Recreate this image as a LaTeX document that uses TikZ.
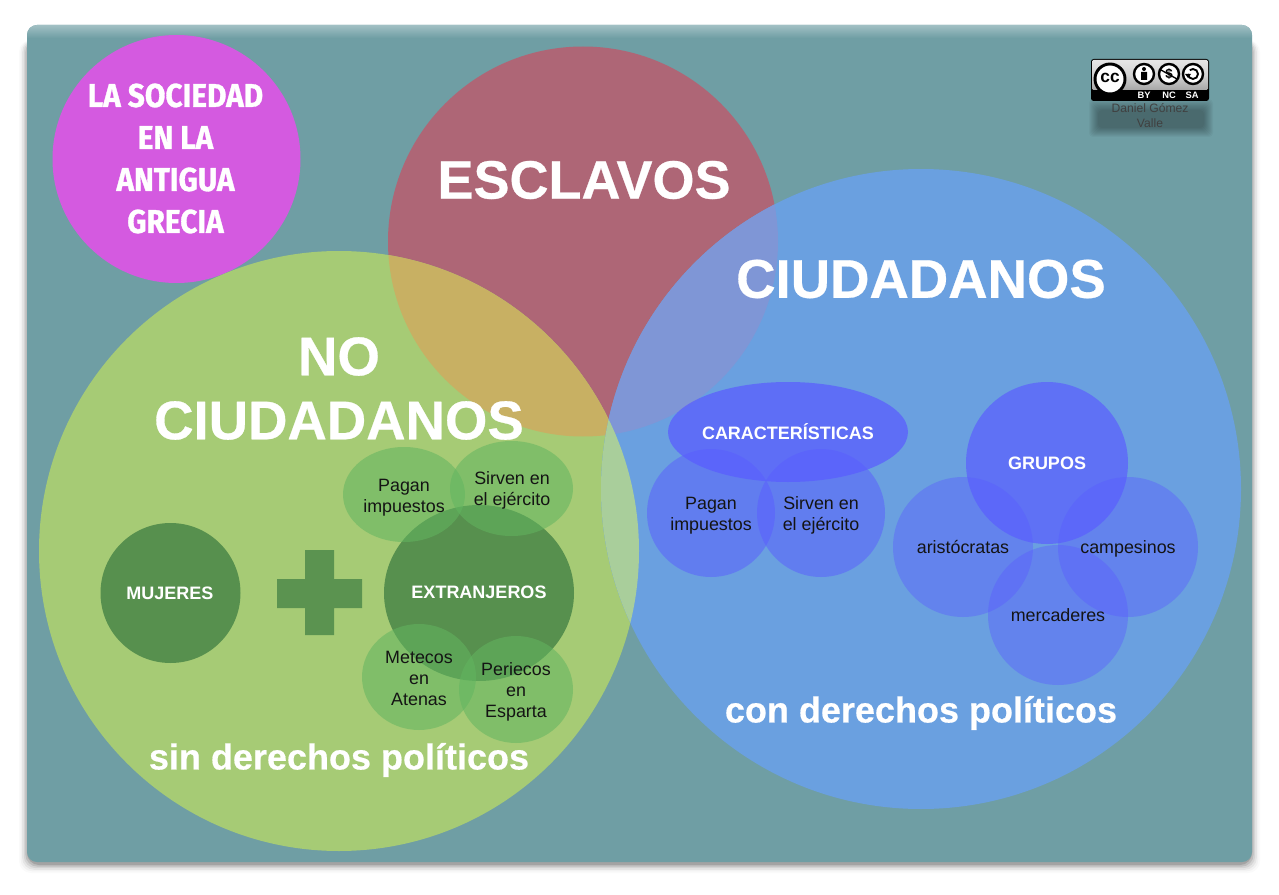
\documentclass[tikz,border=0pt]{standalone}
\usepackage{fontspec}
\setmainfont{Liberation Sans}
\newfontfamily\titlefont[UprightFont=* Bold,FakeStretch=.905,FakeBold=1]{Fira Sans}
\newfontfamily\bigfont[UprightFont=* Bold,FakeBold=.5]{Liberation Sans}
\usetikzlibrary{calc}
\definecolor{cardc}{HTML}{6F9EA4}
\definecolor{pinkc}{HTML}{D45AE0}
\definecolor{redc}{HTML}{AE6676}
\definecolor{greenc}{HTML}{A6CB75}
\definecolor{bluec}{HTML}{6AA0E0}
\definecolor{tanc}{HTML}{C8B063}
\definecolor{redblue}{HTML}{7F96D6}
\definecolor{greenblue}{HTML}{A9CE9B}
\definecolor{dgreen}{HTML}{4F8A4A}
\definecolor{mgreen}{HTML}{62B560}
\definecolor{vblue}{HTML}{5A5CFF}
\tikzset{
  x=0.75pt,y=-0.75pt,
  disc/.style={circle,inner sep=0pt,minimum size=#1*0.75pt,align=center},
  big/.style={font=\bigfont\fontsize{40.5}{48}\selectfont,text=white,align=center},
  bigger/.style={font=\bigfont\fontsize{40.9}{48}\selectfont,text=white,align=center},
  sub/.style={font=\bigfont\fontsize{27}{30}\selectfont,text=white},
  lab/.style={font=\bfseries\fontsize{13.5}{15}\selectfont,text=white,align=center},
  small/.style={font=\fontsize{13.4}{15.7}\selectfont,text=black!92,align=center},
  title/.style={font=\titlefont\fontsize{24.7}{31.5}\selectfont,text=white,align=center},
}
\begin{document}
\begin{tikzpicture}
\useasboundingbox (0,0) rectangle (1279,895);
\fill[white] (0,0) rectangle (1279,895);
% card shadow
\foreach \d/\o in {10/.02,8/.03,6/.05,4/.07,2/.1,0/.14}{
  \fill[black,opacity=\o,rounded corners=9pt] (27-\d*.8,40) rectangle (1252+\d*.8,862+3+\d*.8);
}
\fill[cardc,rounded corners=7.5pt] (27,25) rectangle (1252,862);
\begin{scope}
\clip[rounded corners=7.5pt] (27,25) rectangle (1252,862);
\shade[top color=cardc!65!white,bottom color=cardc] (27,25) rectangle (1252,38);
\end{scope}
% large discs
\node[disc=248,fill=pinkc] (title) at (176.5,159) {};
\node[disc=390,fill=redc] (esclavos) at (583,241.5) {};
\node[disc=600,fill=greenc] (nociud) at (339,551) {};
\node[disc=640,fill=bluec] (ciud) at (921,489) {};
\begin{scope}
\clip (339,551) circle [radius=300];
\fill[tanc] (583,241.5) circle [radius=195];
\end{scope}
\begin{scope}
\clip (921,489) circle [radius=320];
\fill[redblue] (583,241.5) circle [radius=195];
\fill[greenblue] (339,551) circle [radius=300];
\end{scope}
% green inner
\node[disc=140,fill=dgreen,fill opacity=.9] (muj) at (170.5,593) {};
\fill[dgreen,opacity=.85] (305,550) rectangle (334,635) (277,579) rectangle (305,608) (334,579) rectangle (362,608);
\fill[dgreen,opacity=.9] (479,593) ellipse [x radius=95,y radius=88];
\fill[mgreen,opacity=.55] (404,494.5) ellipse [x radius=61,y radius=47.5];
\fill[mgreen,opacity=.55] (511.5,488.5) ellipse [x radius=61.5,y radius=47.5];
\fill[mgreen,opacity=.55] (419,677) ellipse [x radius=57,y radius=53];
\fill[mgreen,opacity=.55] (516,689.5) ellipse [x radius=57,y radius=53.5];
% blue inner
\fill[vblue,opacity=.5] (711,513) circle [radius=64];
\fill[vblue,opacity=.5] (821,513) circle [radius=64];
\fill[vblue,opacity=.72] (788,432) ellipse [x radius=120,y radius=50];
\fill[vblue,opacity=.42] (963,547) circle [radius=70];
\fill[vblue,opacity=.42] (1128,547) circle [radius=70];
\fill[vblue,opacity=.42] (1058,615) circle [radius=70];
\fill[vblue,opacity=.68] (1047,463) circle [radius=81];
% title texts
\node[title] (t1) at (175.5,158.5) {LA SOCIEDAD\\EN LA\\ANTIGUA\\GRECIA};
\node[big] (t2) at (584,180) {ESCLAVOS};
\node[bigger] (t3) at (921,279) {CIUDADANOS};
\node[bigger] (t4) at (339,388.5) {NO\\CIUDADANOS};
\node[sub] (t5) at (339,760) {sin derechos políticos};
\node[sub] (t6) at (921,713) {con derechos políticos};
\node[lab] (t7) at (170,593) {MUJERES};
\node[lab] (t8) at (479,592) {EXTRANJEROS};
\node[small] (t9) at (404,498) {Pagan\\impuestos};
\node[small] (t10) at (512,490) {Sirven en\\el ejército};
\node[small] (t11) at (419,678.5) {Metecos\\en\\Atenas};
\node[small] (t12) at (516,692) {Periecos\\en\\Esparta};
\node[lab] (t13) at (788,432) {CARACTERÍSTICAS};
\node[small] (t14) at (711,516) {Pagan\\impuestos};
\node[small] (t15) at (821,515) {Sirven en\\el ejército};
\node[lab] (t16) at (1047,463) {GRUPOS};
\node[small] (t17) at (963,547) {aristócratas};
\node[small] (t18) at (1128,549) {campesinos};
\node[small] (t19) at (1058,615) {mercaderes};
% licence
\foreach \d in {0,1,...,9}{
  \fill[black,opacity=.035,rounded corners=3pt] (1098-\d,110-\d*1.2) rectangle (1204+\d,128+\d);
}
\fill[black,rounded corners=2pt] (1091,59) rectangle (1209,101);
\shade[top color=gray!20,bottom color=gray!70,middle color=gray!35,rounded corners=1pt] (1092,60) rectangle (1208,90);
\fill[black] (1092,90) rectangle (1208,100);
\fill[white,draw=black,line width=2.2pt] (1110,79) circle [radius=15];
\node[font=\bfseries\fontsize{13}{13}\selectfont,text=black] (cc) at (1110,78) {cc};
\fill[white,draw=black,line width=1.8pt] (1144,74) circle [radius=10];
\fill[black] (1144,69) circle [radius=2] (1141,72) rectangle (1147,80);
\fill[white,draw=black,line width=1.8pt] (1169,74) circle [radius=10];
\node[font=\bfseries\fontsize{10}{10}\selectfont,text=black] (dl) at (1169,74) {\$};
\draw[black,line width=1pt] (1161,70) -- (1177,79);
\fill[white,draw=black,line width=1.8pt] (1193,74) circle [radius=10];
\draw[black,line width=1.4pt] (1188,74) arc [start angle=180,end angle=-130,radius=5];
\fill[black] (1185,74) -- (1191,74) -- (1188,78) -- cycle;
\node[font=\bfseries\fontsize{7}{7}\selectfont,text=white] (by) at (1144,95.5) {BY};
\node[font=\bfseries\fontsize{7}{7}\selectfont,text=white] (nc) at (1169,95.5) {NC};
\node[font=\bfseries\fontsize{7}{7}\selectfont,text=white] (sa) at (1192,95.5) {SA};
\node[font=\fontsize{9.1}{11.25}\selectfont,text=black!75,align=center] (auth) at (1150,115.5) {Daniel Gómez\\Valle};
\end{tikzpicture}
\end{document}
